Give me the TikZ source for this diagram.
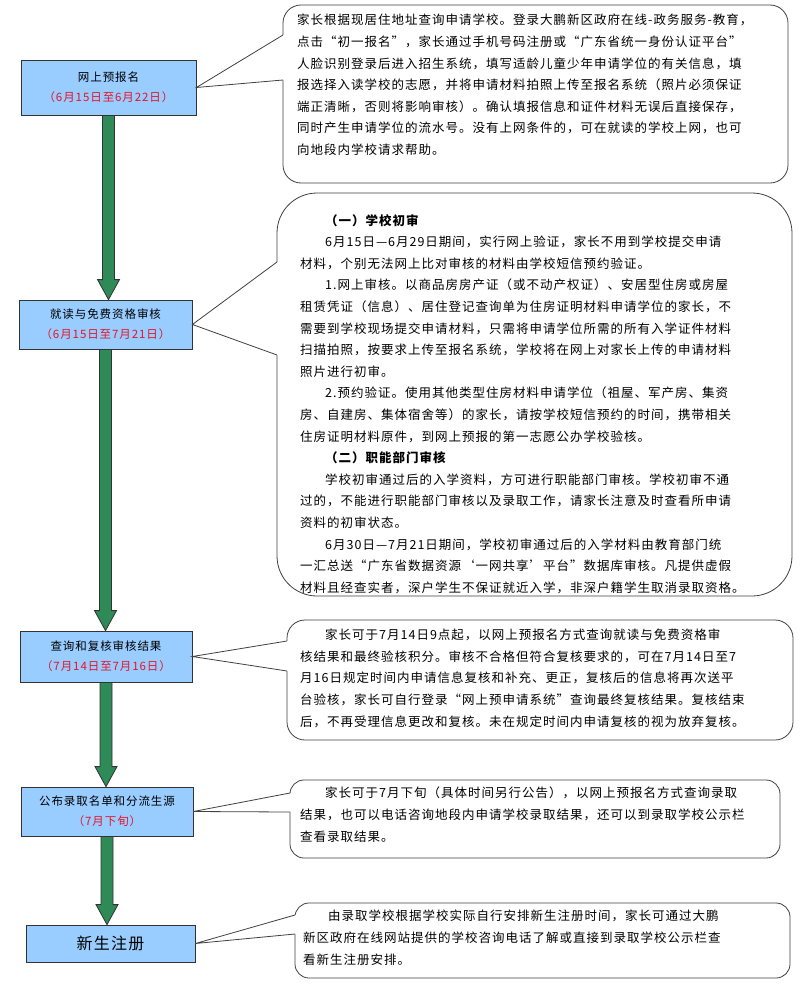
\documentclass[tikz,border=0pt]{standalone}
\usepackage{fontspec}
\setmainfont{Noto Sans CJK SC}[LetterSpace=8]
\usepackage{xcolor}
\usetikzlibrary{positioning,calc}
\definecolor{boxblue}{RGB}{153,204,255}
\definecolor{flowgreen}{RGB}{46,139,87}
\definecolor{daterred}{RGB}{230,20,40}

\tikzset{
  stage/.style={rectangle, draw=black!80, thick, fill=boxblue, align=center, font=\fontsize{11.5}{20}\selectfont},
  bubble/.style={draw=black!75, thick, fill=white},
  note/.style={anchor=north west, align=left, inner sep=0pt, font=\fontsize{12.5}{21.6}\selectfont},
  flow/.style={draw=black!80, thick, fill=flowgreen}
}
\newcommand{\dates}[1]{\textcolor{daterred}{#1}}
\newcommand{\pointer}[8]{% left, top, right, bottom, y1, y2, node, radius
  \draw[bubble, rounded corners=#8] (#1,#2) rectangle (#3,#4);
  \fill[white] (#7.east) -- (#1,#5) -- ({#1+2},#5) -- ({#1+2},#6) -- (#1,#6) -- cycle;
  \draw[black!75, thick] (#1,#5) -- (#7.east) -- (#1,#6);}
\newcommand{\flowarrow}[2]{%
  \draw[flow] ($(#1.south)+(-6,0)$) -- ($(#1.south |- #2.north)+(-6,-20)$) -- ++(-5,0) -- (#1.south |- #2.north)
    -- ($(#1.south |- #2.north)+(11,-20)$) -- ++(-5,0) -- ($(#1.south)+(6,0)$) -- cycle;}

\begin{document}
\begin{tikzpicture}[x=1pt, y=-1pt]
    \useasboundingbox (0,0) rectangle (805,993);

    %Steps
    \node (signup)   [stage, minimum width=175pt, minimum height=55pt] at (108.5,87.5)  {网上预报名\\\dates{（6月15日至6月22日）}};
    \node (review)   [stage, minimum width=173pt, minimum height=49pt] at (105.5,324.5) {就读与免费资格审核\\\dates{（6月15日至7月21日）}};
    \node (query)    [stage, minimum width=172pt, minimum height=51pt] at (106,656.5)   {查询和复核审核结果\\\dates{（7月14日至7月16日）}};
    \node (admit)    [stage, minimum width=172pt, minimum height=49pt] at (107,811.5)   {公布录取名单和分流生源\\\dates{（7月下旬）}};
    \node (register) [stage, minimum width=169pt, minimum height=37pt, font=\fontsize{16}{18}\selectfont] at (110.5,943.5) {新生注册};

    %Arrows
    \flowarrow{signup}{review}
    \flowarrow{review}{query}
    \flowarrow{query}{admit}
    \flowarrow{admit}{register}

    %Callouts
    \pointer{283}{5}{788}{183}{35}{80}{signup}{18}
    \pointer{277}{193}{792}{596}{262}{355}{review}{40}
    \pointer{287}{620}{793}{740}{641}{671}{query}{18}
    \pointer{290}{780}{780}{858}{793}{812}{admit}{14}
    \pointer{295}{903}{790}{978}{915}{934}{register}{14}

    \node (note1) [note] at (297,14) {家长根据现居住地址查询申请学校。登录大鹏新区政府在线-政务服务-教育，\\点击“初一报名”，家长通过手机号码注册或“广东省统一身份认证平台”\\人脸识别登录后进入招生系统，填写适龄儿童少年申请学位的有关信息，填\\报选择入读学校的志愿，并将申请材料拍照上传至报名系统（照片必须保证\\端正清晰，否则将影响审核）。确认填报信息和证件材料无误后直接保存，\\同时产生申请学位的流水号。没有上网条件的，可在就读的学校上网，也可\\向地段内学校请求帮助。};
    \node (note2) [note] at (300,214) {\hspace{2em}\textbf{（一）学校初审}\\
      \hspace{2em}6月15日—6月29日期间，实行网上验证，家长不用到学校提交申请\\材料，个别无法网上比对审核的材料由学校短信预约验证。\\
      \hspace{2em}1.网上审核。以商品房房产证（或不动产权证）、安居型住房或房屋\\租赁凭证（信息）、居住登记查询单为住房证明材料申请学位的家长，不\\需要到学校现场提交申请材料，只需将申请学位所需的所有入学证件材料\\扫描拍照，按要求上传至报名系统，学校将在网上对家长上传的申请材料\\照片进行初审。\\
      \hspace{2em}2.预约验证。使用其他类型住房材料申请学位（祖屋、军产房、集资\\房、自建房、集体宿舍等）的家长，请按学校短信预约的时间，携带相关\\住房证明材料原件，到网上预报的第一志愿公办学校验核。\\
      \hspace{2em}\textbf{（二）职能部门审核}\\
      \hspace{2em}学校初审通过后的入学资料，方可进行职能部门审核。学校初审不通\\过的，不能进行职能部门审核以及录取工作，请家长注意及时查看所申请\\资料的初审状态。\\
      \hspace{2em}6月30日—7月21日期间，学校初审通过后的入学材料由教育部门统\\一汇总送“广东省数据资源‘一网共享’平台”数据库审核。凡提供虚假\\材料且经查实者，深户学生不保证就近入学，非深户籍学生取消录取资格。};
    \node (note3) [note] at (300,629) {\hspace{2em}家长可于7月14日9点起，以网上预报名方式查询就读与免费资格审\\核结果和最终验核积分。审核不合格但符合复核要求的，可在7月14日至7\\月16日规定时间内申请信息复核和补充、更正，复核后的信息将再次送平\\台验核，家长可自行登录“网上预申请系统”查询最终复核结果。复核结束\\后，不再受理信息更改和复核。未在规定时间内申请复核的视为放弃复核。};
    \node (note4) [note] at (300,787) {\hspace{2em}家长可于7月下旬（具体时间另行公告），以网上预报名方式查询录取\\结果，也可以电话咨询地段内申请学校录取结果，还可以到录取学校公示栏\\查看录取结果。};
    \node (note5) [note] at (303,910) {\hspace{2em}由录取学校根据学校实际自行安排新生注册时间，家长可通过大鹏\\新区政府在线网站提供的学校咨询电话了解或直接到录取学校公示栏查\\看新生注册安排。};
\end{tikzpicture}
\end{document}
